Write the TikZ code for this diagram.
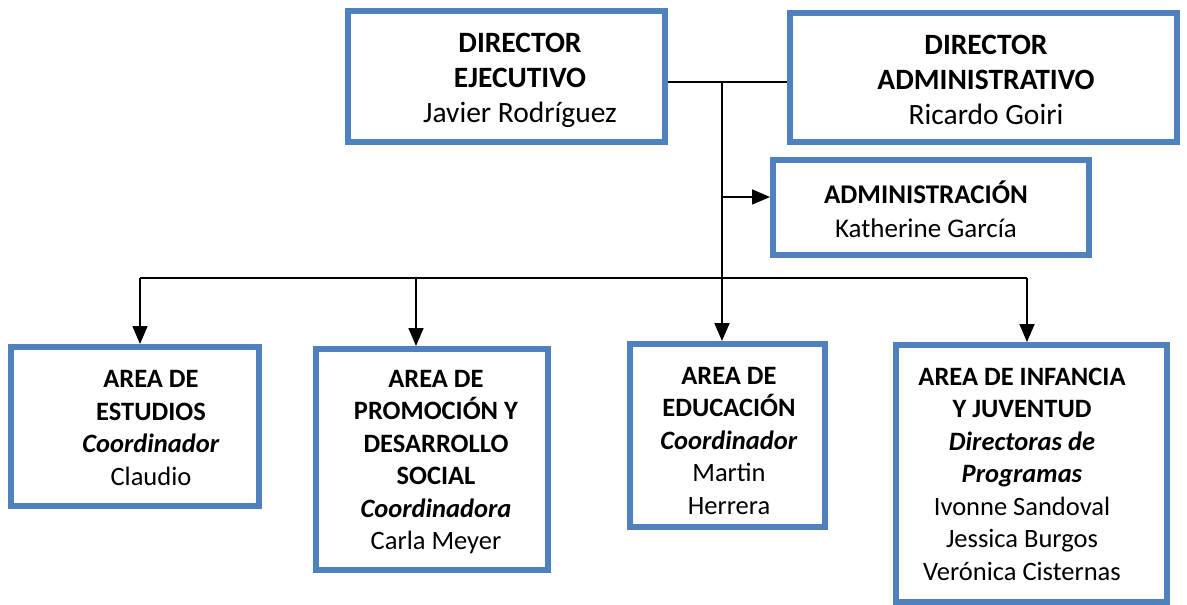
\documentclass[tikz,border=0pt]{standalone}
\usepackage{fontspec}
\setmainfont{Carlito}
\usetikzlibrary{arrows.meta}
\definecolor{boxblue}{RGB}{79,129,189}
\begin{document}
\begin{tikzpicture}[x=1pt,y=-1pt,
  orgbox/.style={draw=boxblue,line width=6pt,inner sep=0pt,outer sep=3pt,rectangle},
  txt/.style={align=center,inner sep=0pt,font=\fontsize{26.5}{32.5}\selectfont},
  admtxt/.style={align=center,inner sep=0pt,font=\fontsize{27}{34}\selectfont},
  toptxt/.style={align=center,inner sep=0pt,font=\fontsize{29.5}{35}\selectfont},
  conn/.style={line width=1.8pt,black},
  arr/.style={conn,-{Triangle[length=18pt,width=15pt]}}
]
\useasboundingbox (0,0) rectangle (1187,605);
% boxes
\node[orgbox,minimum width=317pt,minimum height=131pt] (de) at (506.5,76.5) {};
\node[orgbox,minimum width=387pt,minimum height=129pt] (da) at (983.5,77.5) {};
\node[orgbox,minimum width=316pt,minimum height=95pt] (adm) at (931,207.5) {};
\node[orgbox,minimum width=248pt,minimum height=159pt] (est) at (135,426.5) {};
\node[orgbox,minimum width=232pt,minimum height=221pt] (pro) at (432,459.5) {};
\node[orgbox,minimum width=195pt,minimum height=183pt] (edu) at (727.5,435.5) {};
\node[orgbox,minimum width=271pt,minimum height=257pt] (inf) at (1031.5,473.5) {};
% texts
\node[toptxt] (deT) at (520,80) {\textbf{DIRECTOR}\\\textbf{EJECUTIVO}\\Javier Rodríguez};
\node[toptxt] (daT) at (986,80) {\textbf{DIRECTOR}\\\textbf{ADMINISTRATIVO}\\Ricardo Goiri};
\node[admtxt] (admT) at (926,209) {\textbf{ADMINISTRACIÓN}\\Katherine García};
\node[txt] (estT) at (151,428) {\textbf{AREA DE}\\\textbf{ESTUDIOS}\\\textbf{\textit{Coordinador}}\\Claudio};
\node[txt] (proT) at (436,462) {\textbf{AREA DE}\\\textbf{PROMOCIÓN Y}\\\textbf{DESARROLLO}\\\textbf{SOCIAL}\\\textbf{\textit{Coordinadora}}\\Carla Meyer};
\node[txt] (eduT) at (729,441) {\textbf{AREA DE}\\\textbf{EDUCACIÓN}\\\textbf{\textit{Coordinador}}\\Martin\\Herrera};
\node[txt] (infT) at (1022,474) {\textbf{AREA DE INFANCIA}\\\textbf{Y JUVENTUD}\\\textbf{\textit{Directoras de}}\\\textbf{\textit{Programas}}\\Ivonne Sandoval\\Jessica Burgos\\Verónica Cisternas};
% connectors
\coordinate (j) at (722,82);
\coordinate (ja) at (722,197);
\coordinate (bl) at (140,278);
\coordinate (bm) at (416,278);
\coordinate (br) at (1027,278);
\draw[conn] (de.east |- j) -- (da.west |- j);
\draw[arr] (j) -- (j |- edu.north);
\draw[arr] (ja) -- (ja -| adm.west);
\draw[conn] (bl) -- (br);
\draw[arr] (bl) -- (bl |- est.north);
\draw[arr] (bm) -- (bm |- pro.north);
\draw[arr] (br) -- (br |- inf.north);
\end{tikzpicture}
\end{document}
